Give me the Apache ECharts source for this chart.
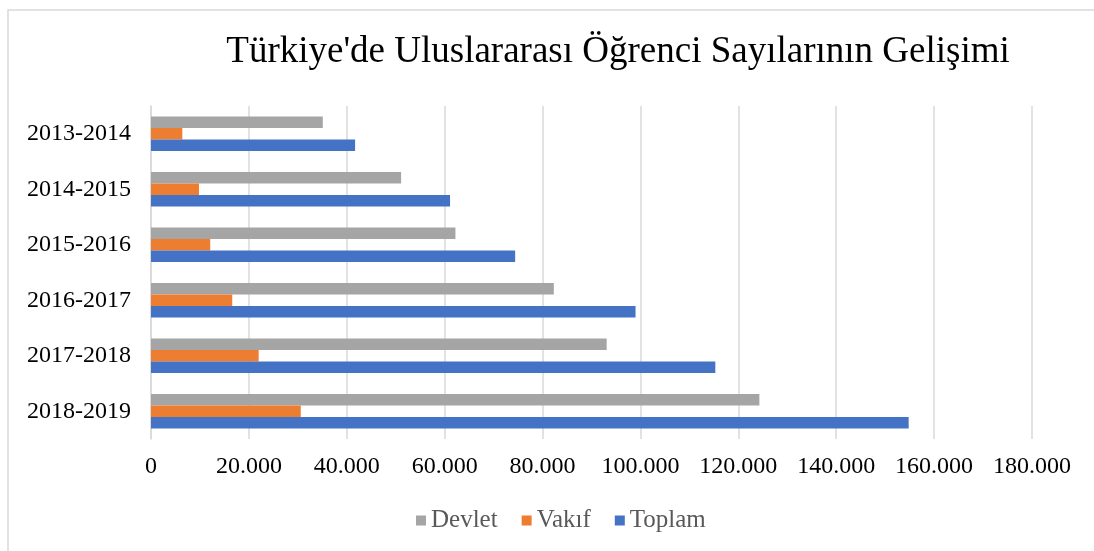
<!DOCTYPE html>
<html>
<head>
<meta charset="utf-8">
<script src="https://cdn.jsdelivr.net/npm/echarts@6/dist/echarts.min.js"></script>
<style>
  html, body { margin: 0; padding: 0; background: #fff; }
  #chart { width: 1094px; height: 551px; }
</style>
</head>
<body>
<div id="chart"></div>
<script>
const years = ["2013-2014", "2014-2015", "2015-2016", "2016-2017", "2017-2018", "2018-2019"];
const devlet = [35100, 51100, 62200, 82300, 93100, 124300];
const vakif = [6400, 9800, 12100, 16600, 22000, 30600];
const toplam = [41700, 61100, 74400, 99000, 115300, 154800];

const serif = '"Liberation Serif", "Times New Roman", serif';

const fmt = (v) => v === 0 ? "0" : String(v).replace(/\B(?=(\d{3})+(?!\d))/g, ".");

const chart = echarts.init(document.getElementById("chart"));

const option = {
  backgroundColor: "#fff",
  animation: false,
  title: {
    text: "Türkiye'de Uluslararası Öğrenci Sayılarının Gelişimi",
    left: 613,
    textAlign: "center",
    top: 29,
    textStyle: { fontFamily: serif, fontSize: 37, fontWeight: "normal", color: "#000" }
  },
  graphic: [{
    type: "rect",
    shape: { x: 8, y: 10, width: 1200, height: 700 },
    style: { fill: "none", stroke: "#d9d9d9", lineWidth: 1.5 },
    silent: true
  }],
  legend: {
    data: ["Devlet", "Vakıf", "Toplam"],
    bottom: 13,
    left: 411,
    itemWidth: 10,
    itemHeight: 10,
    itemGap: 24,
    icon: "rect",
    textStyle: { fontFamily: serif, fontSize: 25, color: "#595959" }
  },
  grid: { left: 151, right: 62, top: 106, bottom: 112, containLabel: false },
  xAxis: {
    type: "value",
    min: 0,
    max: 180000,
    interval: 20000,
    axisLine: { show: false },
    axisTick: { show: false },
    splitLine: { show: true, lineStyle: { color: "#d9d9d9", width: 1.5 } },
    axisLabel: { margin: 16, fontFamily: serif, fontSize: 24, color: "#000", formatter: fmt }
  },
  yAxis: {
    type: "category",
    data: years,
    inverse: true,
    axisLine: { show: true, lineStyle: { color: "#d9d9d9", width: 1.5 } },
    axisTick: { show: false },
    axisLabel: { margin: 20, fontFamily: serif, fontSize: 24, color: "#000" }
  },
  series: [
    { name: "Devlet", type: "bar", data: devlet, itemStyle: { color: "#a5a5a5" }, barGap: "0%", barCategoryGap: "38%" },
    { name: "Vakıf", type: "bar", data: vakif, itemStyle: { color: "#ed7d31" }, barGap: "0%", barCategoryGap: "38%" },
    { name: "Toplam", type: "bar", data: toplam, itemStyle: { color: "#4472c4" }, barGap: "0%", barCategoryGap: "38%" }
  ]
};

chart.setOption(option);
</script>
</body>
</html>
